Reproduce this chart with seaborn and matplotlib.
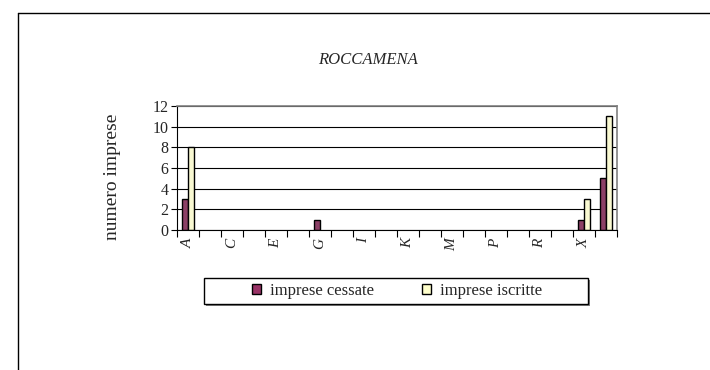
import pandas as pd
import numpy as np
import matplotlib
matplotlib.use("Agg")
import matplotlib.pyplot as plt
import matplotlib.patches as mpatches
from matplotlib.lines import Line2D
import seaborn as sns

# Data
settori = ["A", "B", "C", "D", "E", "F", "G", "H", "I", "J",
           "K", "L", "M", "N", "P", "Q", "R", "S", "X", "Totale"]
cessate = [3, 0, 0, 0, 0, 0, 1, 0, 0, 0, 0, 0, 0, 0, 0, 0, 0, 0, 1, 5]
iscritte = [8, 0, 0, 0, 0, 0, 0, 0, 0, 0, 0, 0, 0, 0, 0, 0, 0, 0, 3, 11]
serie = ["imprese cessate", "imprese iscritte"]
colori = ["#993366", "#FFFFCC"]

df = pd.DataFrame({
    "settore": settori * 2,
    "imprese": cessate + iscritte,
    "tipo": [serie[0]] * len(settori) + [serie[1]] * len(settori),
})

sns.set_theme(style="white")
plt.rcParams['font.family'] = ['Liberation Serif', 'DejaVu Serif']

W, H = 710, 370
fig = plt.figure(figsize=(7.1, 3.7), dpi=100)
ax = fig.add_axes([177 / W, 1 - 230 / H, 440 / W, 124 / H])

sns.barplot(data=df, x="settore", y="imprese", hue="tipo", order=settori,
            hue_order=serie, palette=colori, width=0.58, gap=0,
            edgecolor="black", linewidth=1, errorbar=None, legend=False, ax=ax)

# empty categories show no bar outline
for p in ax.patches:
    if p.get_height() == 0:
        p.set_linewidth(0)

ax.set_xlim(-0.5, len(settori) - 0.5)
ax.set_ylim(0, 12)
ax.set_yticks(range(0, 13, 2))
ax.yaxis.grid(True, color="black", linewidth=0.8)
ax.set_axisbelow(True)
ax.tick_params(axis="y", direction="out", length=4, width=0.8, color="black",
               labelsize=11.5, pad=2, left=True)

# category labels on every other slot, ticks between categories
ax.set_xticks(range(0, len(settori) - 1, 2))
ax.set_xticklabels(settori[:-1:2], rotation=90, fontstyle="italic", fontsize=11)
ax.set_xticks(np.arange(-0.5, len(settori), 1), minor=True)
ax.tick_params(axis="x", which="major", length=0, pad=6)
ax.tick_params(axis="x", which="minor", direction="out", length=5, width=0.8,
               color="black", bottom=True)
ax.set_xlabel("")
ax.set_ylabel("")

for s in ["left", "bottom"]:
    ax.spines[s].set_color("black")
    ax.spines[s].set_linewidth(0.8)
for s in ["top", "right"]:
    ax.spines[s].set_color("#808080")
    ax.spines[s].set_linewidth(1.2)

fig.text(368 / W, 1 - 60 / H, "ROCCAMENA", ha="center", va="center",
         fontsize=12, fontstyle="italic")
fig.text(112 / W, 1 - 177 / H, "numero imprese", ha="center", va="center",
         rotation=90, fontsize=14)

# legend box with shadow
lx0, lx1, ly0, ly1 = 204, 588, 278, 304
fig.patches.append(mpatches.Rectangle((lx0 / W + 2 / W, 1 - ly1 / H - 2 / H),
                                      (lx1 - lx0) / W, (ly1 - ly0) / H,
                                      transform=fig.transFigure, facecolor="#808080",
                                      edgecolor="none", zorder=1))
fig.patches.append(mpatches.Rectangle((lx0 / W, 1 - ly1 / H),
                                      (lx1 - lx0) / W, (ly1 - ly0) / H,
                                      transform=fig.transFigure, facecolor="white",
                                      edgecolor="black", linewidth=1, zorder=2))
handles = [mpatches.Patch(facecolor=c, edgecolor="black", linewidth=1) for c in colori]
leg = fig.legend(handles, serie, loc="center", bbox_to_anchor=(397 / W, 1 - 291 / H),
                 ncol=2, frameon=False, fontsize=12, handlelength=0.55,
                 handleheight=0.55, handletextpad=0.5, columnspacing=2.9)
leg.set_zorder(3)

# outer chart border (clipped at right and bottom)
bx, by = 17.5 / W, 1 - 12.5 / H
fig.add_artist(Line2D([bx, 1], [by, by], transform=fig.transFigure,
                      color="black", linewidth=1))
fig.add_artist(Line2D([bx, bx], [0, by], transform=fig.transFigure,
                      color="black", linewidth=1))

fig.savefig("out.png", dpi=100)
